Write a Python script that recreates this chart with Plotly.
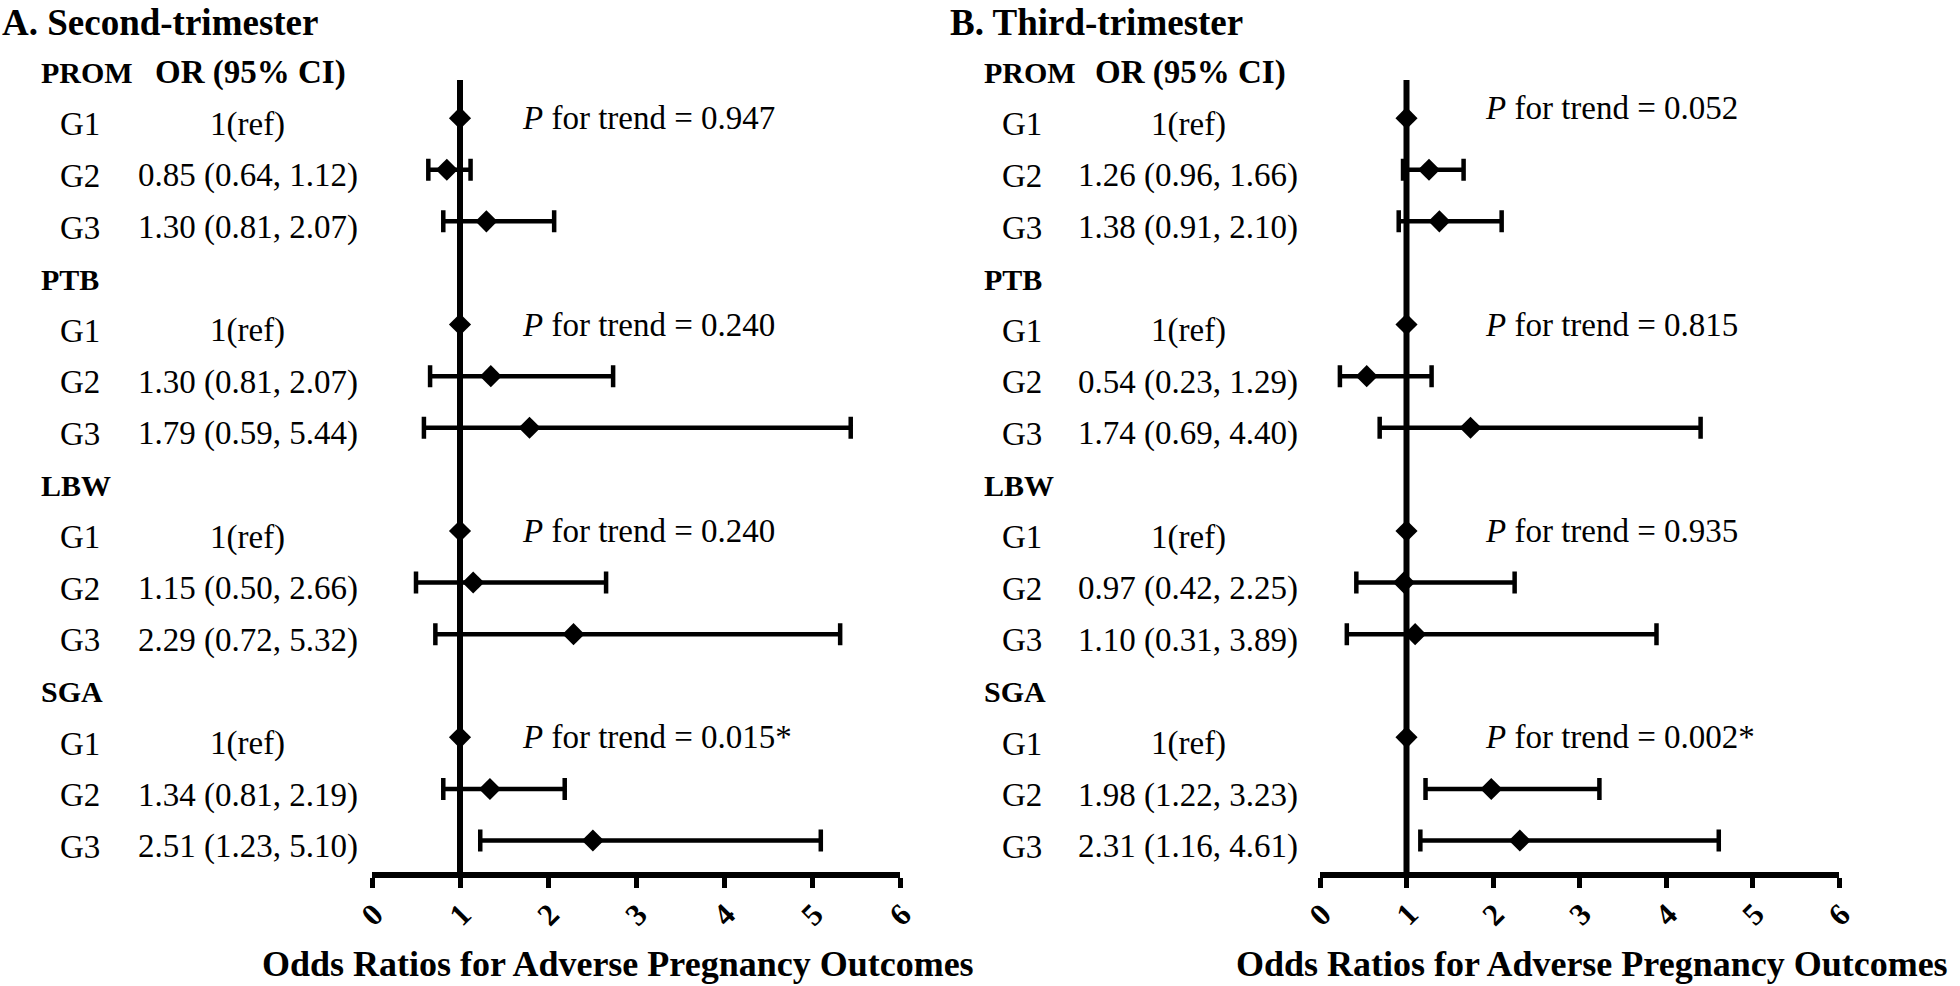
import plotly.graph_objects as go

# ---------------- data ----------------
outcomes = ["PROM", "PTB", "LBW", "SGA"]
groups = ["G1", "G2", "G3"]

# Panel A: second trimester (plotted values as drawn)
a_or = [1, 0.85, 1.30, 1, 1.35, 1.79, 1, 1.15, 2.29, 1, 1.34, 2.51]
a_lo = [1, 0.64, 0.81, 1, 0.66, 0.59, 1, 0.50, 0.72, 1, 0.81, 1.23]
a_hi = [1, 1.12, 2.07, 1, 2.74, 5.44, 1, 2.66, 5.32, 1, 2.19, 5.10]
a_labels = ["1(ref)", "0.85 (0.64, 1.12)", "1.30 (0.81, 2.07)",
            "1(ref)", "1.30 (0.81, 2.07)", "1.79 (0.59, 5.44)",
            "1(ref)", "1.15 (0.50, 2.66)", "2.29 (0.72, 5.32)",
            "1(ref)", "1.34 (0.81, 2.19)", "2.51 (1.23, 5.10)"]
a_p = ["0.947", "0.240", "0.240", "0.015*"]

# Panel B: third trimester
b_or = [1, 1.26, 1.38, 1, 0.54, 1.74, 1, 0.97, 1.10, 1, 1.98, 2.31]
b_lo = [1, 0.96, 0.91, 1, 0.23, 0.69, 1, 0.42, 0.31, 1, 1.22, 1.16]
b_hi = [1, 1.66, 2.10, 1, 1.29, 4.40, 1, 2.25, 3.89, 1, 3.23, 4.61]
b_labels = ["1(ref)", "1.26 (0.96, 1.66)", "1.38 (0.91, 2.10)",
            "1(ref)", "0.54 (0.23, 1.29)", "1.74 (0.69, 4.40)",
            "1(ref)", "0.97 (0.42, 2.25)", "1.10 (0.31, 3.89)",
            "1(ref)", "1.98 (1.22, 3.23)", "2.31 (1.16, 4.61)"]
b_p = ["0.052", "0.815", "0.935", "0.002*"]

tick_vals = [0, 1, 2, 3, 4, 5, 6]
tick_text = ["0", "1", "2", "3", "4", "5", "6"]

titles = ["A. Second-trimester", "B. Third-trimester"]
x_title = "Odds Ratios for Adverse Pregnancy Outcomes"

# ---------------- layout constants ----------------
W, H = 1960, 986
SERIF = "Liberation Serif, Times New Roman, serif"
row_y = [4 * g + 1 + k for g in range(4) for k in range(3)]
head_y = [4 * g for g in range(4)]
TXT_OFF = 0.12

panels = [
    dict(orv=a_or, lo=a_lo, hi=a_hi, labels=a_labels, p=a_p, xa="x", ya="y",
         dom=(372, 900), head_left=39, gcol=80, orcol=248, orhead=250, px=1.68,
         p_rows=[1, 5, 9, 13], title_x=0, xlab_c=618),
    dict(orv=b_or, lo=b_lo, hi=b_hi, labels=b_labels, p=b_p, xa="x2", ya="y",
         dom=(1320, 1839), head_left=982, gcol=1022, orcol=1188, orhead=1190, px=1.88,
         p_rows=[0.8, 5, 9, 13], title_x=948, xlab_c=1592),
]

fig = go.Figure()
annotations = []
shapes = []

for i, pn in enumerate(panels):
    err_p = [h - o for h, o in zip(pn["hi"], pn["orv"])]
    err_m = [o - l for o, l in zip(pn["orv"], pn["lo"])]
    fig.add_trace(go.Scatter(
        x=pn["orv"], y=row_y, mode="markers", xaxis=pn["xa"], yaxis=pn["ya"],
        marker=dict(symbol="diamond", size=17, color="black"),
        error_x=dict(type="data", symmetric=False, array=err_p, arrayminus=err_m,
                     color="black", thickness=4.5, width=11),
        showlegend=False, hoverinfo="skip", cliponaxis=False))

    # reference line at OR = 1
    shapes.append(dict(type="line", xref=pn["xa"], yref="y", x0=1, x1=1, y0=0.26, y1=15.61,
                       line=dict(color="black", width=6), layer="below"))

    # outcome headers
    for g, name in enumerate(outcomes):
        annotations.append(dict(text=name, xref="paper", yref="y",
                                x=pn["head_left"] / W, y=head_y[g] + TXT_OFF,
                                xanchor="left", yanchor="middle", showarrow=False,
                                font=dict(family=SERIF, size=30, color="black", weight="bold")))
    annotations.append(dict(text="OR (95% CI)", xref="paper", yref="y",
                            x=pn["orhead"] / W, y=head_y[0] + TXT_OFF,
                            xanchor="center", yanchor="middle", showarrow=False,
                            font=dict(family=SERIF, size=33, color="black", weight="bold")))
    # group labels and OR text
    for j, yv in enumerate(row_y):
        annotations.append(dict(text=groups[j % 3], xref="paper", yref="y",
                                x=pn["gcol"] / W, y=yv + TXT_OFF,
                                xanchor="center", yanchor="middle", showarrow=False,
                                font=dict(family=SERIF, size=33, color="black")))
        annotations.append(dict(text=pn["labels"][j], xref="paper", yref="y",
                                x=pn["orcol"] / W, y=yv + TXT_OFF,
                                xanchor="center", yanchor="middle", showarrow=False,
                                font=dict(family=SERIF, size=33, color="black")))
    # P for trend
    for g in range(4):
        annotations.append(dict(text="<i>P</i> for trend = " + pn["p"][g],
                                xref=pn["xa"], yref="y", x=pn["px"], y=pn["p_rows"][g],
                                xanchor="left", yanchor="middle", showarrow=False,
                                font=dict(family=SERIF, size=33, color="black")))
    # rotated tick labels, centred under each tick
    for tv, tt in zip(tick_vals, tick_text):
        annotations.append(dict(text=tt, xref=pn["xa"], yref="paper", x=tv, y=1 - 914 / H,
                                xanchor="center", yanchor="middle", showarrow=False,
                                textangle=-45,
                                font=dict(family=SERIF, size=31, color="black", weight="bold")))
    # panel title
    annotations.append(dict(text=titles[i], xref="paper", yref="paper",
                            x=pn["title_x"] / W, y=1,
                            xanchor="left", yanchor="top", showarrow=False,
                            font=dict(family=SERIF, size=37, color="black", weight="bold")))
    # x axis title
    annotations.append(dict(text=x_title, xref="paper", yref="paper",
                            x=pn["xlab_c"] / W, y=0,
                            xanchor="center", yanchor="bottom", showarrow=False,
                            font=dict(family=SERIF, size=36, color="black", weight="bold")))

axis_common = dict(range=[0, 6], showgrid=False, zeroline=False, showline=True,
                   linecolor="black", linewidth=6, ticks="outside", ticklen=10,
                   tickwidth=5, tickcolor="black", tickvals=tick_vals,
                   showticklabels=False, anchor="y", automargin=False)

fig.update_layout(
    template="none",
    width=W, height=H,
    margin=dict(l=0, r=0, t=0, b=0, pad=0, autoexpand=False),
    paper_bgcolor="white", plot_bgcolor="white",
    xaxis=dict(domain=[panels[0]["dom"][0] / W, panels[0]["dom"][1] / W], **axis_common),
    xaxis2=dict(domain=[panels[1]["dom"][0] / W, panels[1]["dom"][1] / W], **axis_common),
    yaxis=dict(domain=[1 - 872 / H, 1], range=[15.61, -1.29], visible=False,
               showgrid=False, zeroline=False, automargin=False),
    annotations=annotations, shapes=shapes,
)

fig.write_html("out.html", config={"displayModeBar": False},
               post_script="document.body.style.margin='0';document.body.style.overflow='hidden';")
